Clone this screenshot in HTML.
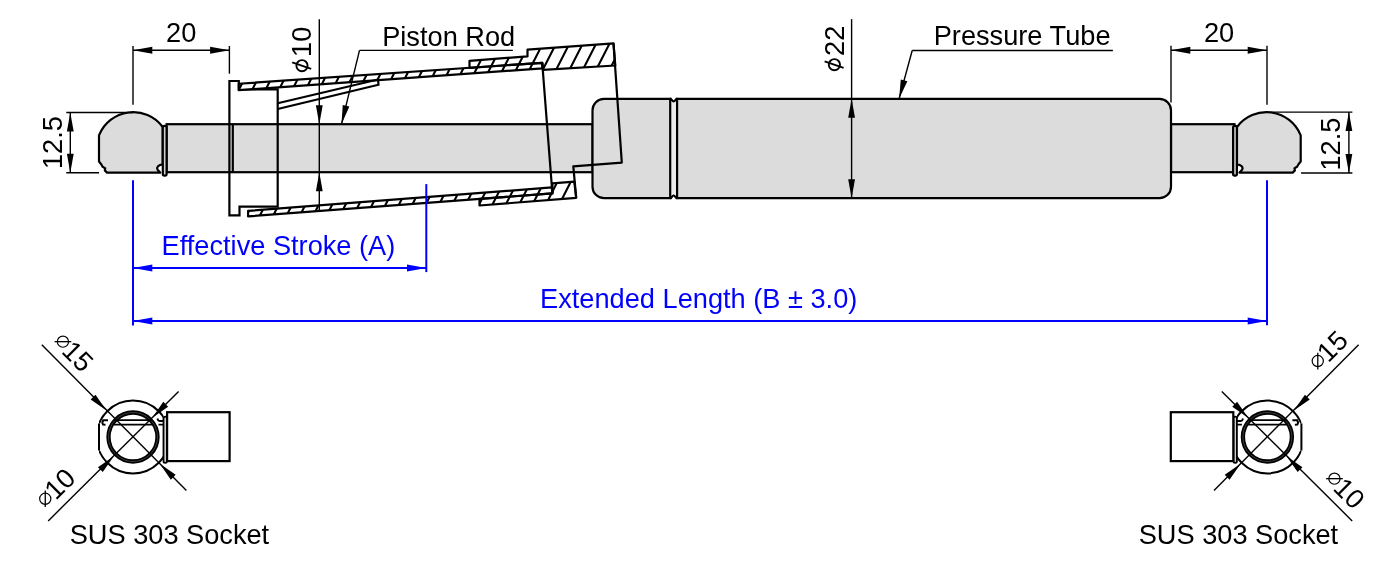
<!DOCTYPE html>
<html><head><meta charset="utf-8"><style>
html,body{margin:0;padding:0;background:#fff;}
svg{display:block;font-family:"Liberation Sans",sans-serif;will-change:transform;}
</style></head><body>
<svg width="1400" height="578" viewBox="0 0 1400 578">
<rect width="1400" height="578" fill="#fff"/>
<rect x="166.6" y="124.2" width="426" height="48" fill="#dcdcdc" stroke="#000" stroke-width="2.2"/>
<rect x="1171" y="124.2" width="63.5" height="48" fill="#dcdcdc" stroke="#000" stroke-width="2.2"/>
<path d="M99,135.4 A36.8,36.8 0 0 1 162.7,127 L162.7,164.4 C158.5,164.6 156.2,167.4 157.6,169.8 L160.2,172.6 H107 L104.8,170.4 L105.2,168.2 L102.6,166.8 L101.2,164.2 L99,161.5 Z" fill="#dcdcdc" stroke="#000" stroke-width="2.2" stroke-linejoin="round"/>
<rect x="162.8" y="125.8" width="3.8" height="49.8" rx="1.6" fill="#cfcfcf" stroke="#000" stroke-width="2.2"/>
<g transform="matrix(-1,0,0,1,1399.7,0)">
<path d="M99,135.4 A36.8,36.8 0 0 1 162.7,127 L162.7,164.4 C158.5,164.6 156.2,167.4 157.6,169.8 L160.2,172.6 H107 L104.8,170.4 L105.2,168.2 L102.6,166.8 L101.2,164.2 L99,161.5 Z" fill="#dcdcdc" stroke="#000" stroke-width="2.2" stroke-linejoin="round"/>
<rect x="162.8" y="125.8" width="3.8" height="49.8" rx="1.6" fill="#cfcfcf" stroke="#000" stroke-width="2.2"/>
</g>
<rect x="592.5" y="98.8" width="578.5" height="99.4" rx="11.5" fill="#dcdcdc" stroke="#000" stroke-width="2.2"/>
<rect x="670.2" y="99.5" width="6.9" height="97.5" fill="#ececec"/>
<line x1="670.2" y1="98.8" x2="670.2" y2="198.2" stroke="#000" stroke-width="2.2"/>
<line x1="677.1" y1="98.8" x2="677.1" y2="198.2" stroke="#000" stroke-width="2.2"/>
<rect x="671.4" y="96.5" width="4.5" height="3.6" fill="#fff"/>
<rect x="671.4" y="196.8" width="4.5" height="3.6" fill="#fff"/>
<path d="M670,98.7 C671.8,98.7 672,101.4 673.65,101.4 C675.3,101.4 675.5,98.7 677.3,98.7" fill="none" stroke="#000" stroke-width="2.2"/>
<path d="M670,198.2 C671.8,198.2 672,195.5 673.65,195.5 C675.3,195.5 675.5,198.2 677.3,198.2" fill="none" stroke="#000" stroke-width="2.2"/>
<path d="M229.4,215.4 V81 H238.8 V89.3 H277.7 V206.7 H239.5 V215.4 Z" fill="none" stroke="#000" stroke-width="2.2"/>
<line x1="232.8" y1="124.2" x2="232.8" y2="172.2" stroke="#000" stroke-width="2.2"/>
<defs><clipPath id="hcu"><path d="M238.80,83.73 L542.20,62.79 L542.60,68.36 L238.80,90.14 Z M469.50,67.81 L469.50,60.80 L527.50,56.40 L527.50,49.70 L613.50,43.40 L615.30,65.50 L543.00,69.80 L542.20,62.79 Z"/></clipPath><clipPath id="hcl"><path d="M248.10,210.89 L551.90,187.41 L552.40,193.42 L248.10,216.39 Z M479.50,198.92 L479.50,205.50 L576.20,197.80 L574.30,181.60 L552.40,183.30 L552.40,193.42 Z"/></clipPath></defs>
<path d="M238.80,83.73 L542.20,62.79 L542.60,68.36 L238.80,90.14 Z" fill="#fff"/>
<path d="M469.50,67.81 L469.50,60.80 L527.50,56.40 L527.50,49.70 L613.50,43.40 L615.30,65.50 L543.00,69.80 L542.20,62.79 Z" fill="#fff"/>
<path d="M248.10,210.89 L551.90,187.41 L552.40,193.42 L248.10,216.39 Z" fill="#fff"/>
<path d="M479.50,198.92 L479.50,205.50 L576.20,197.80 L574.30,181.60 L552.40,183.30 L552.40,193.42 Z" fill="#fff"/>
<path d="M-251.30,30 L-353.30,230 M-237.95,30 L-339.95,230 M-224.60,30 L-326.60,230 M-211.25,30 L-313.25,230 M-197.90,30 L-299.90,230 M-184.55,30 L-286.55,230 M-171.20,30 L-273.20,230 M-157.85,30 L-259.85,230 M-144.50,30 L-246.50,230 M-131.15,30 L-233.15,230 M-117.80,30 L-219.80,230 M-104.45,30 L-206.45,230 M-91.10,30 L-193.10,230 M-77.75,30 L-179.75,230 M-64.40,30 L-166.40,230 M-51.05,30 L-153.05,230 M-37.70,30 L-139.70,230 M-24.35,30 L-126.35,230 M-11.00,30 L-113.00,230 M2.35,30 L-99.65,230 M15.70,30 L-86.30,230 M29.05,30 L-72.95,230 M42.40,30 L-59.60,230 M55.75,30 L-46.25,230 M69.10,30 L-32.90,230 M82.45,30 L-19.55,230 M95.80,30 L-6.20,230 M109.15,30 L7.15,230 M122.50,30 L20.50,230 M135.85,30 L33.85,230 M149.20,30 L47.20,230 M162.55,30 L60.55,230 M175.90,30 L73.90,230 M189.25,30 L87.25,230 M202.60,30 L100.60,230 M215.95,30 L113.95,230 M229.30,30 L127.30,230 M242.65,30 L140.65,230 M256.00,30 L154.00,230 M269.35,30 L167.35,230 M282.70,30 L180.70,230 M296.05,30 L194.05,230 M309.40,30 L207.40,230 M322.75,30 L220.75,230 M336.10,30 L234.10,230 M349.45,30 L247.45,230 M362.80,30 L260.80,230 M376.15,30 L274.15,230 M389.50,30 L287.50,230 M402.85,30 L300.85,230 M416.20,30 L314.20,230 M429.55,30 L327.55,230 M442.90,30 L340.90,230 M456.25,30 L354.25,230 M469.60,30 L367.60,230 M482.95,30 L380.95,230 M496.30,30 L394.30,230 M509.65,30 L407.65,230 M523.00,30 L421.00,230 M536.35,30 L434.35,230 M549.70,30 L447.70,230 M563.05,30 L461.05,230 M576.40,30 L474.40,230 M589.75,30 L487.75,230 M603.10,30 L501.10,230 M616.45,30 L514.45,230 M629.80,30 L527.80,230 M643.15,30 L541.15,230 M656.50,30 L554.50,230 M669.85,30 L567.85,230 M683.20,30 L581.20,230 M696.55,30 L594.55,230 M709.90,30 L607.90,230 M723.25,30 L621.25,230 M736.60,30 L634.60,230" stroke="#000" stroke-width="2.1" fill="none" clip-path="url(#hcu)"/>
<path d="M-259.60,30 L-361.60,230 M-246.25,30 L-348.25,230 M-232.90,30 L-334.90,230 M-219.55,30 L-321.55,230 M-206.20,30 L-308.20,230 M-192.85,30 L-294.85,230 M-179.50,30 L-281.50,230 M-166.15,30 L-268.15,230 M-152.80,30 L-254.80,230 M-139.45,30 L-241.45,230 M-126.10,30 L-228.10,230 M-112.75,30 L-214.75,230 M-99.40,30 L-201.40,230 M-86.05,30 L-188.05,230 M-72.70,30 L-174.70,230 M-59.35,30 L-161.35,230 M-46.00,30 L-148.00,230 M-32.65,30 L-134.65,230 M-19.30,30 L-121.30,230 M-5.95,30 L-107.95,230 M7.40,30 L-94.60,230 M20.75,30 L-81.25,230 M34.10,30 L-67.90,230 M47.45,30 L-54.55,230 M60.80,30 L-41.20,230 M74.15,30 L-27.85,230 M87.50,30 L-14.50,230 M100.85,30 L-1.15,230 M114.20,30 L12.20,230 M127.55,30 L25.55,230 M140.90,30 L38.90,230 M154.25,30 L52.25,230 M167.60,30 L65.60,230 M180.95,30 L78.95,230 M194.30,30 L92.30,230 M207.65,30 L105.65,230 M221.00,30 L119.00,230 M234.35,30 L132.35,230 M247.70,30 L145.70,230 M261.05,30 L159.05,230 M274.40,30 L172.40,230 M287.75,30 L185.75,230 M301.10,30 L199.10,230 M314.45,30 L212.45,230 M327.80,30 L225.80,230 M341.15,30 L239.15,230 M354.50,30 L252.50,230 M367.85,30 L265.85,230 M381.20,30 L279.20,230 M394.55,30 L292.55,230 M407.90,30 L305.90,230 M421.25,30 L319.25,230 M434.60,30 L332.60,230 M447.95,30 L345.95,230 M461.30,30 L359.30,230 M474.65,30 L372.65,230 M488.00,30 L386.00,230 M501.35,30 L399.35,230 M514.70,30 L412.70,230 M528.05,30 L426.05,230 M541.40,30 L439.40,230 M554.75,30 L452.75,230 M568.10,30 L466.10,230 M581.45,30 L479.45,230 M594.80,30 L492.80,230 M608.15,30 L506.15,230 M621.50,30 L519.50,230 M634.85,30 L532.85,230 M648.20,30 L546.20,230 M661.55,30 L559.55,230 M674.90,30 L572.90,230 M688.25,30 L586.25,230 M701.60,30 L599.60,230 M714.95,30 L612.95,230 M728.30,30 L626.30,230 M741.65,30 L639.65,230" stroke="#000" stroke-width="2.1" fill="none" clip-path="url(#hcl)"/>
<path d="M238.80,83.73 L542.20,62.79 L542.60,68.36 L238.80,90.14 Z" fill="none" stroke="#000" stroke-width="2.2" stroke-linejoin="round"/>
<path d="M469.50,67.81 L469.50,60.80 L527.50,56.40 L527.50,49.70 L613.50,43.40 L615.30,65.50 L543.00,69.80 L542.20,62.79 Z" fill="none" stroke="#000" stroke-width="2.2" stroke-linejoin="round"/>
<path d="M248.10,210.89 L551.90,187.41 L552.40,193.42 L248.10,216.39 Z" fill="none" stroke="#000" stroke-width="2.2" stroke-linejoin="round"/>
<path d="M479.50,198.92 L479.50,205.50 L576.20,197.80 L574.30,181.60 L552.40,183.30 L552.40,193.42 Z" fill="none" stroke="#000" stroke-width="2.2" stroke-linejoin="round"/>
<path d="M277.7,103.2 L378,79.5 L378.5,84.7 L277.7,109" fill="none" stroke="#000" stroke-width="2.2"/>
<line x1="542.2" y1="62.5" x2="552.4" y2="193.5" stroke="#000" stroke-width="2.2"/>
<path d="M613.5,43.4 L621.8,162.6 L573.3,166.4 L576.2,197.8" fill="none" stroke="#000" stroke-width="2.2" stroke-linejoin="round"/>
<line x1="133" y1="46" x2="133" y2="104.8" stroke="#000" stroke-width="1.4"/>
<line x1="229.4" y1="46" x2="229.4" y2="73.7" stroke="#000" stroke-width="1.4"/>
<line x1="133" y1="50.3" x2="229.4" y2="50.3" stroke="#000" stroke-width="1.4"/>
<path d="M133.00,50.30 L152.30,46.85 L152.30,53.75 Z" fill="#000"/>
<path d="M229.40,50.30 L210.10,53.75 L210.10,46.85 Z" fill="#000"/>
<text x="181.2" y="42" fill="#000" font-size="27.2" text-anchor="middle">20</text>
<line x1="1171" y1="45.8" x2="1171" y2="102.5" stroke="#000" stroke-width="1.4"/>
<line x1="1267" y1="45.8" x2="1267" y2="104.7" stroke="#000" stroke-width="1.4"/>
<line x1="1171" y1="50.3" x2="1267" y2="50.3" stroke="#000" stroke-width="1.4"/>
<path d="M1171.00,50.30 L1190.30,46.85 L1190.30,53.75 Z" fill="#000"/>
<path d="M1267.00,50.30 L1247.70,53.75 L1247.70,46.85 Z" fill="#000"/>
<text x="1219" y="42" fill="#000" font-size="27.2" text-anchor="middle">20</text>
<line x1="319.3" y1="19.3" x2="319.3" y2="211.4" stroke="#000" stroke-width="1.4"/>
<path d="M319.30,124.20 L315.90,105.20 L322.70,105.20 Z" fill="#000"/>
<path d="M319.30,172.20 L322.70,191.20 L315.90,191.20 Z" fill="#000"/>
<g transform="translate(311.2 56.9) rotate(-90)">
<circle cx="-8.8" cy="-9.2" r="5.6" fill="none" stroke="#000" stroke-width="1.9"/>
<line x1="-12" y1="0" x2="-5.4" y2="-19" stroke="#000" stroke-width="1.9"/>
<text x="0" y="0" fill="#000" font-size="27.2">10</text></g>
<text x="382.2" y="45.6" fill="#000" font-size="27.2" text-anchor="start">Piston Rod</text>
<line x1="359.5" y1="50.4" x2="512.9" y2="50.4" stroke="#000" stroke-width="1.4"/>
<line x1="359.5" y1="50.4" x2="341.5" y2="124.2" stroke="#000" stroke-width="1.4"/>
<path d="M341.50,124.20 L342.74,104.94 L349.34,106.56 Z" fill="#000"/>
<line x1="851.6" y1="19.1" x2="851.6" y2="198.2" stroke="#000" stroke-width="1.4"/>
<path d="M851.60,98.80 L855.00,117.80 L848.20,117.80 Z" fill="#000"/>
<path d="M851.60,198.20 L848.20,179.20 L855.00,179.20 Z" fill="#000"/>
<g transform="translate(843.6 55.9) rotate(-90)">
<circle cx="-8.8" cy="-9.2" r="5.6" fill="none" stroke="#000" stroke-width="1.9"/>
<line x1="-12" y1="0" x2="-5.4" y2="-19" stroke="#000" stroke-width="1.9"/>
<text x="0" y="0" fill="#000" font-size="27.2">22</text></g>
<text x="933.7" y="45.4" fill="#000" font-size="27.2" text-anchor="start">Pressure Tube</text>
<line x1="912.2" y1="50.5" x2="1112.9" y2="50.5" stroke="#000" stroke-width="1.4"/>
<line x1="912.2" y1="50.5" x2="899.1" y2="98.7" stroke="#000" stroke-width="1.4"/>
<path d="M899.10,98.70 L900.80,79.47 L907.36,81.26 Z" fill="#000"/>
<line x1="66.3" y1="112.5" x2="133" y2="112.5" stroke="#000" stroke-width="1.4"/>
<line x1="66.3" y1="172.7" x2="99" y2="172.7" stroke="#000" stroke-width="1.4"/>
<line x1="70.3" y1="112.5" x2="70.3" y2="172.7" stroke="#000" stroke-width="1.4"/>
<path d="M70.30,112.50 L73.70,131.50 L66.90,131.50 Z" fill="#000"/>
<path d="M70.30,172.70 L66.90,153.70 L73.70,153.70 Z" fill="#000"/>
<text x="62.2" y="169.1" fill="#000" font-size="27.2" text-anchor="start" transform="rotate(-90 62.2 169.1)">12.5</text>
<line x1="1266.7" y1="112.1" x2="1352.4" y2="112.1" stroke="#000" stroke-width="1.4"/>
<line x1="1301" y1="173" x2="1352.4" y2="173" stroke="#000" stroke-width="1.4"/>
<line x1="1348.9" y1="112.1" x2="1348.9" y2="173" stroke="#000" stroke-width="1.4"/>
<path d="M1348.90,112.10 L1352.30,131.10 L1345.50,131.10 Z" fill="#000"/>
<path d="M1348.90,173.00 L1345.50,154.00 L1352.30,154.00 Z" fill="#000"/>
<text x="1340.3" y="170.5" fill="#000" font-size="27.2" text-anchor="start" transform="rotate(-90 1340.3 170.5)">12.5</text>
<line x1="133" y1="180.3" x2="133" y2="325.4" stroke="#0000ff" stroke-width="2.0"/>
<line x1="426.3" y1="184.1" x2="426.3" y2="272.1" stroke="#0000ff" stroke-width="2.0"/>
<line x1="1267" y1="180.3" x2="1267" y2="325.3" stroke="#0000ff" stroke-width="2.0"/>
<line x1="133" y1="268" x2="426.3" y2="268" stroke="#0000ff" stroke-width="2.0"/>
<path d="M133.00,268.00 L152.30,264.55 L152.30,271.45 Z" fill="#0000ff"/>
<path d="M426.30,268.00 L407.00,271.45 L407.00,264.55 Z" fill="#0000ff"/>
<line x1="133" y1="321" x2="1267" y2="321" stroke="#0000ff" stroke-width="2.0"/>
<path d="M133.00,321.00 L152.30,317.55 L152.30,324.45 Z" fill="#0000ff"/>
<path d="M1267.00,321.00 L1247.70,324.45 L1247.70,317.55 Z" fill="#0000ff"/>
<text x="161.6" y="255" fill="#0000ff" font-size="27.2" text-anchor="start">Effective Stroke (A)</text>
<text x="540.1" y="307.6" fill="#0000ff" font-size="27.2" text-anchor="start">Extended Length (B ± 3.0)</text>
<clipPath id="ce"><rect x="99" y="380" width="64.5" height="120"/></clipPath>
<circle cx="133" cy="437" r="36.4" fill="none" stroke="#000" stroke-width="2" clip-path="url(#ce)"/>
<rect x="97.5" y="423.5" width="3" height="27" fill="#fff"/>
<line x1="99" y1="423.5" x2="99" y2="450.5" stroke="#000" stroke-width="2"/>
<path d="M102.2,420.2 H108 M103.5,420.2 Q101.5,422 103,424.5 L105.5,424.8" fill="none" stroke="#000" stroke-width="1.9"/>
<path d="M157.5,418.5 Q158,421.5 160.5,421 L163.5,421 M158.5,424.6 H163.5" fill="none" stroke="#000" stroke-width="1.9"/>
<circle cx="133" cy="437" r="24.5" fill="none" stroke="#000" stroke-width="4.3"/>
<circle cx="133" cy="437" r="24.5" fill="none" stroke="#777" stroke-width="0.5"/>
<line x1="113.8" y1="420.2" x2="151.9" y2="420.2" stroke="#000" stroke-width="1.8"/>
<line x1="112.5" y1="424.6" x2="153.5" y2="424.6" stroke="#000" stroke-width="1.8"/>
<rect x="163.5" y="416.6" width="3.4" height="46.2" rx="1.6" fill="#d0d0d0" stroke="#000" stroke-width="1.8"/>
<rect x="167.1" y="412.2" width="62.5" height="48.9" fill="#fff" stroke="#000" stroke-width="2.2"/>
<line x1="41.8" y1="344.7" x2="186.4" y2="490.5" stroke="#000" stroke-width="1.4"/>
<line x1="48.2" y1="520.9" x2="178.6" y2="391.4" stroke="#000" stroke-width="1.4"/>
<path d="M106.50,410.50 L90.66,399.47 L95.47,394.66 Z" fill="#000"/>
<path d="M159.80,463.80 L175.64,474.83 L170.83,479.64 Z" fill="#000"/>
<path d="M113.80,456.20 L102.77,472.04 L97.96,467.23 Z" fill="#000"/>
<path d="M152.30,417.70 L163.33,401.86 L168.14,406.67 Z" fill="#000"/>
<g transform="matrix(-1,0,0,1,1400.4,0)">
<clipPath id="ce2"><rect x="99" y="380" width="64.5" height="120"/></clipPath>
<circle cx="133" cy="437" r="36.4" fill="none" stroke="#000" stroke-width="2" clip-path="url(#ce2)"/>
<rect x="97.5" y="423.5" width="3" height="27" fill="#fff"/>
<line x1="99" y1="423.5" x2="99" y2="450.5" stroke="#000" stroke-width="2"/>
<path d="M102.2,420.2 H108 M103.5,420.2 Q101.5,422 103,424.5 L105.5,424.8" fill="none" stroke="#000" stroke-width="1.9"/>
<path d="M157.5,418.5 Q158,421.5 160.5,421 L163.5,421 M158.5,424.6 H163.5" fill="none" stroke="#000" stroke-width="1.9"/>
<circle cx="133" cy="437" r="24.5" fill="none" stroke="#000" stroke-width="4.3"/>
<circle cx="133" cy="437" r="24.5" fill="none" stroke="#777" stroke-width="0.5"/>
<line x1="113.8" y1="420.2" x2="151.9" y2="420.2" stroke="#000" stroke-width="1.8"/>
<line x1="112.5" y1="424.6" x2="153.5" y2="424.6" stroke="#000" stroke-width="1.8"/>
<rect x="163.5" y="416.6" width="3.4" height="46.2" rx="1.6" fill="#d0d0d0" stroke="#000" stroke-width="1.8"/>
<rect x="167.1" y="412.2" width="62.5" height="48.9" fill="#fff" stroke="#000" stroke-width="2.2"/>
<line x1="41.8" y1="344.7" x2="186.4" y2="490.5" stroke="#000" stroke-width="1.4"/>
<line x1="48.2" y1="520.9" x2="178.6" y2="391.4" stroke="#000" stroke-width="1.4"/>
<path d="M106.50,410.50 L90.66,399.47 L95.47,394.66 Z" fill="#000"/>
<path d="M159.80,463.80 L175.64,474.83 L170.83,479.64 Z" fill="#000"/>
<path d="M113.80,456.20 L102.77,472.04 L97.96,467.23 Z" fill="#000"/>
<path d="M152.30,417.70 L163.33,401.86 L168.14,406.67 Z" fill="#000"/>
</g>
<text x="69.7" y="543.5" fill="#000" font-size="27.2" text-anchor="start">SUS 303 Socket</text>
<text x="1138.7" y="543.5" fill="#000" font-size="27.2" text-anchor="start">SUS 303 Socket</text>
<g transform="translate(60.6 352.2) rotate(45)">
<circle cx="-5.8" cy="-9.1" r="5.6" fill="none" stroke="#000" stroke-width="1.2"/>
<line x1="-11.7" y1="-3.2" x2="0.1" y2="-15" stroke="#000" stroke-width="1.3"/>
<text x="0" y="0" fill="#000" font-size="27.2">15</text></g>
<g transform="translate(55.8 501.1) rotate(-45)">
<circle cx="-5.8" cy="-9.1" r="5.6" fill="none" stroke="#000" stroke-width="1.2"/>
<line x1="-11.7" y1="-3.2" x2="0.1" y2="-15" stroke="#000" stroke-width="1.3"/>
<text x="0" y="0" fill="#000" font-size="27.2">10</text></g>
<g transform="translate(1328.3 363.4) rotate(-45)">
<circle cx="-5.8" cy="-9.1" r="5.6" fill="none" stroke="#000" stroke-width="1.2"/>
<line x1="-11.7" y1="-3.2" x2="0.1" y2="-15" stroke="#000" stroke-width="1.3"/>
<text x="0" y="0" fill="#000" font-size="27.2">15</text></g>
<g transform="translate(1332.1 489.2) rotate(45)">
<circle cx="-5.8" cy="-9.1" r="5.6" fill="none" stroke="#000" stroke-width="1.2"/>
<line x1="-11.7" y1="-3.2" x2="0.1" y2="-15" stroke="#000" stroke-width="1.3"/>
<text x="0" y="0" fill="#000" font-size="27.2">10</text></g>
</svg></body></html>
